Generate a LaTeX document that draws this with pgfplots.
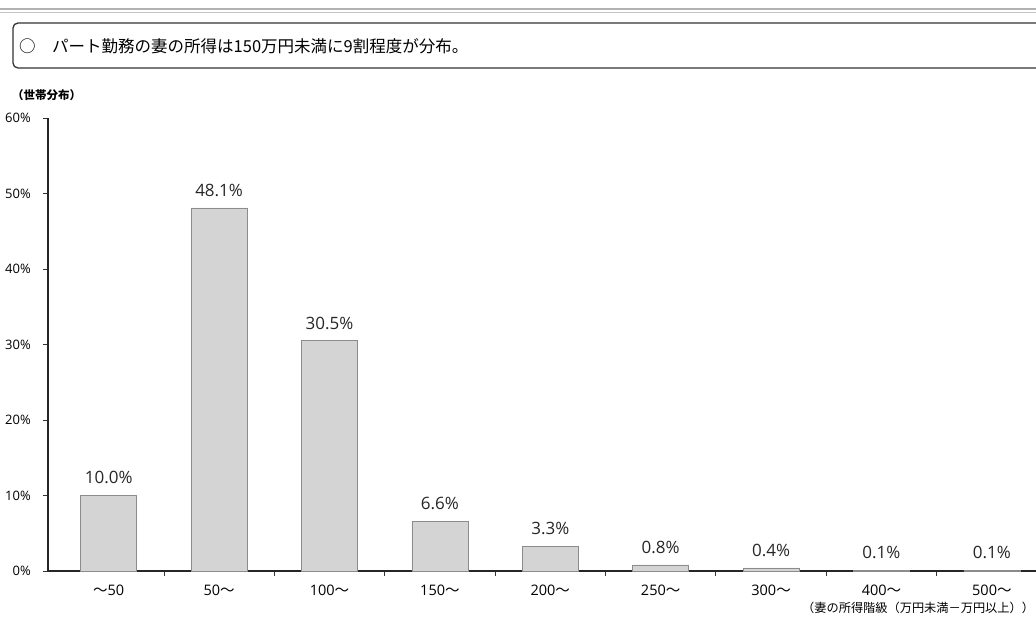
\documentclass[border=0pt]{standalone}
\usepackage{fontspec}
\setmainfont{Open Sans}
\newfontfamily\cjk{Noto Sans CJK JP}
\usepackage{pgfplots}
\usepackage{pgfplotstable}
\pgfplotsset{compat=1.18}
\definecolor{barfill}{RGB}{212,212,212}
\definecolor{baredge}{RGB}{140,140,140}
\pgfplotstableread{
x y
0 10.0
1 48.1
2 30.5
3 6.6
4 3.3
5 0.8
6 0.4
7 0.1
8 0.1
}\datatable
\begin{document}
\begin{tikzpicture}
\useasboundingbox (0,0) rectangle (1036bp,618bp);
\clip (0,0) rectangle (1036bp,618bp);
% top double rule
\draw[gray!60, line width=1.2bp] (0,609bp) -- (1036bp,609bp);
\draw[gray!45, line width=1bp] (0,605bp) -- (1036bp,605bp);
% title box
\draw[rounded corners=5bp, line width=1.3bp, black!80] (13bp,550bp) rectangle (1060bp,595bp);
\node[anchor=west, inner sep=0pt] at (19bp,572bp) {\cjk\fontsize{16.5bp}{18bp}\selectfont ○　パート勤務の妻の所得は150万円未満に9割程度が分布。};
\node[anchor=west, inner sep=0pt] at (12bp,523bp) {\cjk\bfseries\fontsize{11.5bp}{13bp}\selectfont （世帯分布）};
\node[anchor=west, inner sep=0pt] at (802bp,10bp) {\cjk\fontsize{12.2bp}{14bp}\selectfont （妻の所得階級（万円未満－万円以上））};
\begin{axis}[
  at={(48bp,47bp)}, anchor=south west,
  scale only axis, width=988bp, height=453bp,
  xmin=-0.55, xmax=8.4, ymin=0, ymax=60,
  axis x line=bottom, axis y line=left,
  axis line style={-, black!85, line width=1.1bp},
  ytick={0,10,...,60},
  yticklabel={\pgfmathprintnumber{\tick}\%},
  /pgf/number format/assume math mode=true,
  yticklabel style={font=\fontsize{13bp}{15bp}\selectfont, anchor=east, inner sep=0pt, xshift=-12bp},
  xtick={0.5,1.5,...,7.5},
  xticklabels={},
  extra x ticks={0,...,8},
  extra x tick labels={{{\cjk ～}50},{50{\cjk ～}},{100{\cjk ～}},{150{\cjk ～}},{200{\cjk ～}},{250{\cjk ～}},{300{\cjk ～}},{400{\cjk ～}},{500{\cjk ～}}},
  extra x tick style={major tick length=0pt, xticklabel style={font=\fontsize{14.5bp}{16bp}\selectfont, anchor=north, inner sep=0pt, yshift=-14bp}},
  tick align=outside,
  major tick length=5bp,
  tick style={black!80, line width=0.8bp},
  clip=false,
]
\addplot[ybar, bar width=56bp, fill=barfill, draw=baredge, line width=0.6bp,
  nodes near coords={\pgfmathprintnumber[fixed,fixed zerofill,precision=1]{\pgfplotspointmeta}\%},
  nodes near coords style={font=\fontsize{17bp}{19bp}\selectfont, anchor=south, inner sep=0pt, yshift=11bp, text=black!85},
] table[x=x, y=y] {\datatable};
\end{axis}
\end{tikzpicture}
\end{document}
